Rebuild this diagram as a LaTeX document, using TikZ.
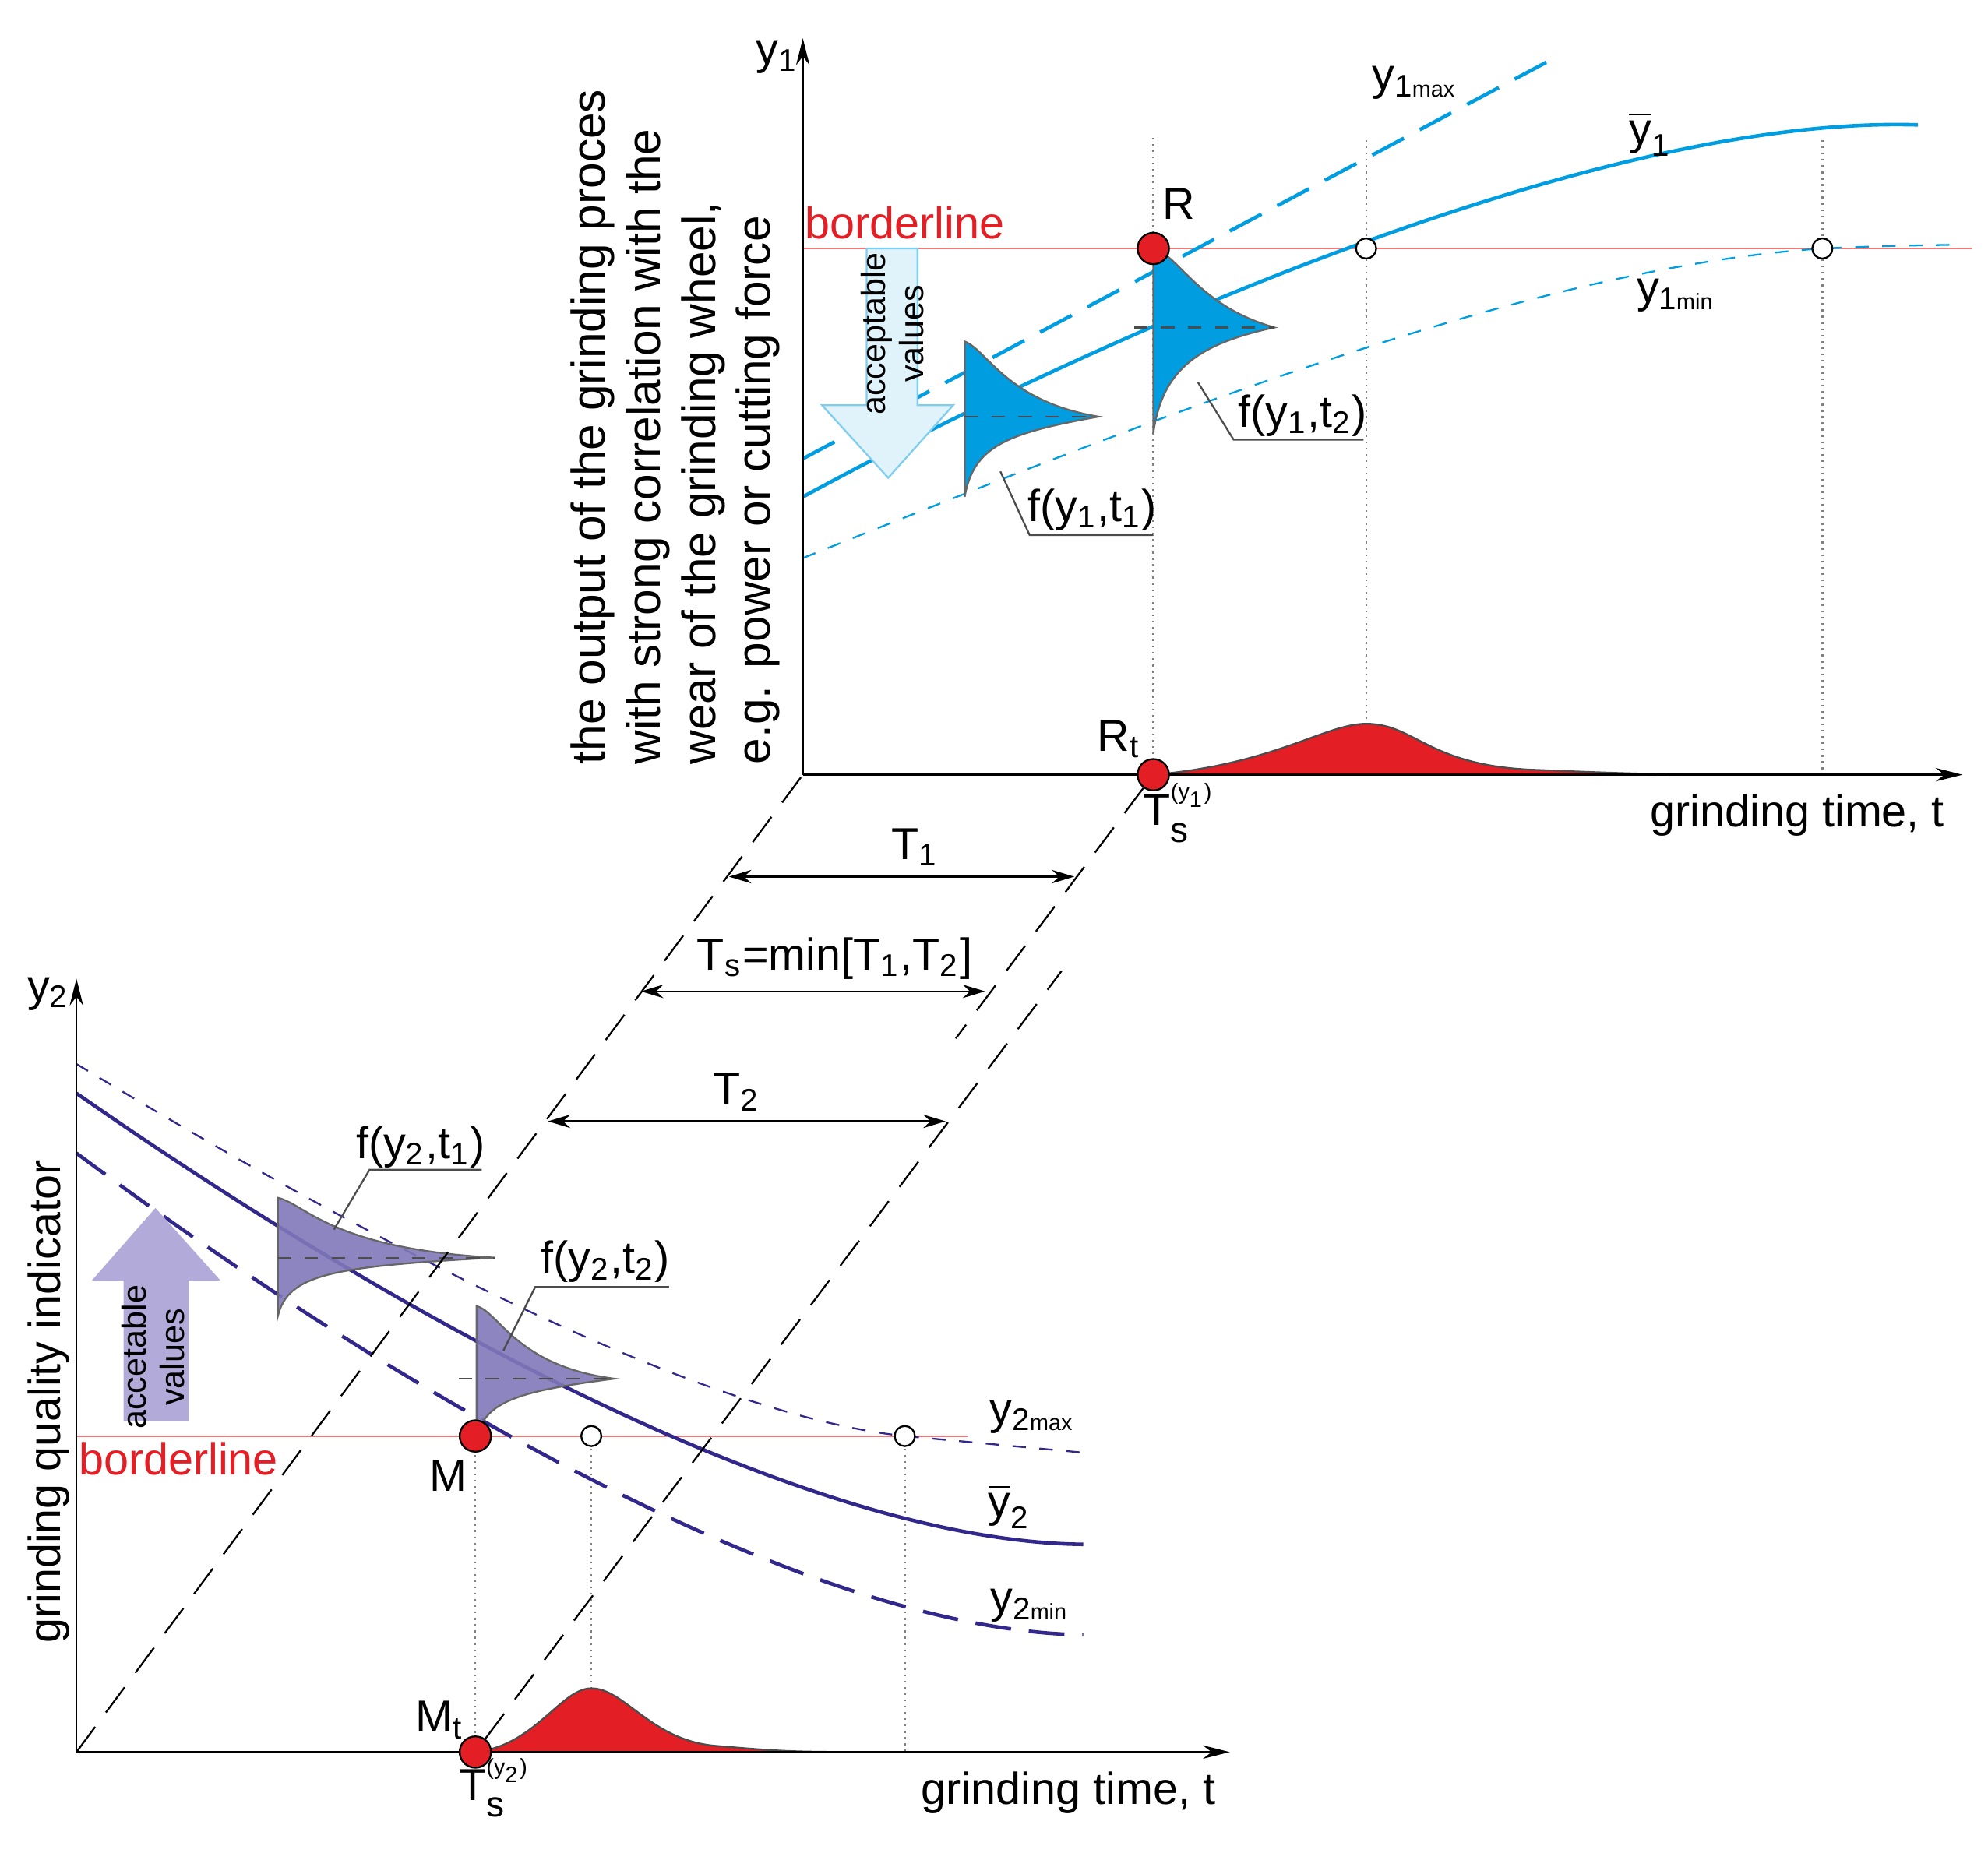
\documentclass[tikz,border=0pt]{standalone}
\usepackage{amsmath}
\usepackage{fontspec}
\setmainfont{Liberation Sans}
\usetikzlibrary{arrows.meta}
\definecolor{yblue}{RGB}{0,158,224}
\definecolor{ypurple}{RGB}{50,40,140}
\definecolor{pfill}{RGB}{128,120,185}
\definecolor{pfillarrow}{RGB}{178,170,216}
\definecolor{bred}{RGB}{227,30,36}
\definecolor{bline}{RGB}{240,120,120}
\newcommand{\sublab}[2]{#1\textsubscript{#2}}
\newcommand{\tslab}[1]{T\rlap{\raisebox{1.1ex}{\tiny(y\textsubscript{#1})}}\raisebox{-0.7ex}{\footnotesize s}}
\begin{document}
\begin{tikzpicture}[x=0.01cm,y=-0.01cm]
    \tikzstyle{axis} = [thin, -{Stealth[length=6pt,width=3pt]}]
    \tikzstyle{guide} = [gray, densely dotted, thin]
    \tikzstyle{border} = [bline, thin]
    \tikzstyle{slant} = [dash pattern=on 7pt off 4pt, thin]
    \tikzstyle{dim} = [thin, {Stealth[length=5pt,width=3pt]}-{Stealth[length=5pt,width=3pt]}]
    \tikzstyle{lbl} = [font=\fontsize{7.5}{8.5}\selectfont, inner sep=1pt]
    \tikzstyle{bigl} = [font=\fontsize{10}{11}\selectfont, inner sep=1pt]
    \tikzstyle{pt} = [circle, draw, fill=bred, inner sep=0pt, minimum size=7pt]
    \tikzstyle{opt} = [circle, draw, fill=white, inner sep=0pt, minimum size=4.5pt]
    \useasboundingbox (0,0) rectangle (1560,1454);

    % upper chart
    \coordinate (O1) at (630,608);
    \coordinate (Y1) at (630,30);
    \coordinate (X1) at (1540,608);
    \draw[border] (630,195) -- (1548,195);
    \draw[guide] (905,108) -- (905,608);
    \draw[guide] (1072,110) -- (1072,608);
    \draw[guide] (1430,110) -- (1430,608);
    \draw[yblue, thick, dash pattern=on 8pt off 4pt] (630,360) -- (1215,48);
    \draw[yblue, thick] (630,390) .. controls (850,270) and (1250,90) .. (1505,98);
    \draw[yblue, thin, dashed] (630,438) .. controls (900,330) and (1200,210) .. (1430,195) .. controls (1480,193) .. (1540,192);
    \draw[fill=bred, draw=black!70, thin] (905,608) .. controls (1000,600) and (1040,568) .. (1072,568) .. controls (1110,568) and (1120,600) .. (1200,604) .. controls (1300,608) .. (1430,608) -- cycle;
    \draw[fill=yblue, draw=black!60, thin] (905,195) .. controls (925,200) and (940,240) .. (1000,257) .. controls (940,270) and (912,290) .. (905,340) -- cycle;
    \draw[fill=yblue, draw=black!60, thin] (757,268) .. controls (775,275) and (790,315) .. (862,327) .. controls (790,340) and (764,350) .. (757,390) -- cycle;
    \draw[dashed, thin, black!70] (890,257) -- (1000,257);
    \draw[dashed, thin, black!70] (757,327) -- (862,327);
    \draw[fill=yblue!12, draw=yblue!50] (680,195) -- (720,195) -- (720,318) -- (748,318) -- (697,375) -- (645,318) -- (680,318) -- cycle;
    \node[lbl, rotate=90, align=center] (AV1) at (700,262) {acceptable\\values};
    \draw[axis] (O1) -- (Y1);
    \draw[axis] (O1) -- (X1);
    \node[pt] (R) at (905,195) {};
    \node[opt] (P1) at (1072,195) {};
    \node[opt] (P2) at (1430,195) {};
    \node[pt] (Rt) at (905,608) {};
    \node[bigl] (y1) at (610,45) {\sublab{y}{1}};
    \node[bigl] (y1max) at (1110,65) {y\textsubscript{1\tiny max}};
    \node[bigl] (y1bar) at (1295,105) {$\overline{\text{y}}_{\text{1}}$};
    \node[bigl] (y1min) at (1315,232) {y\textsubscript{1\tiny min}};
    \node[bigl, text=bred] (bl1) at (710,175) {borderline};
    \node[bigl] (Rl) at (925,160) {R};
    \node[bigl] (Rtl) at (878,580) {\sublab{R}{t}};
    \node[bigl] (Ts1) at (915,638) {\tslab{1}};
    \node[bigl, anchor=east] (gt1) at (1530,640) {grinding time, t};
    \node[bigl] (f12) at (1022,326) {f(\sublab{y}{1},\sublab{t}{2})};
    \node[bigl] (f11) at (857,400) {f(\sublab{y}{1},\sublab{t}{1})};
    \draw[thin, black!70] (940,300) -- (968,345) -- (1070,345);
    \draw[thin, black!70] (785,370) -- (808,420) -- (905,420);
    \node[bigl, rotate=90, align=left, anchor=center, font=\fontsize{10.5}{12.3}\selectfont] (ylab1) at (530,335)
        {the output of the grinding proces\\with strong correlation with the\\wear of the grinding wheel,\\e.g. power or cutting force};

    % lower chart
    \coordinate (O2) at (60,1375);
    \coordinate (Y2) at (60,768);
    \coordinate (X2) at (965,1375);
    \draw[border] (60,1127) -- (760,1127);
    \draw[guide] (373,1127) -- (373,1375);
    \draw[guide] (464,1127) -- (464,1375);
    \draw[guide] (710,1127) -- (710,1375);
    \draw[ypurple, thin, dashed] (60,835) .. controls (300,980) and (550,1110) .. (710,1127) .. controls (780,1133) .. (850,1140);
    \draw[ypurple, thick] (60,858) .. controls (350,1060) and (650,1210) .. (850,1212);
    \draw[ypurple, thick, dash pattern=on 8pt off 4pt] (60,905) .. controls (350,1120) and (650,1280) .. (850,1283);
    \draw[fill=bred, draw=black!70, thin] (373,1375) .. controls (420,1370) and (440,1325) .. (464,1325) .. controls (490,1325) and (510,1365) .. (560,1370) .. controls (620,1375) .. (710,1375) -- cycle;
    \draw[fill=pfill, fill opacity=0.9, draw=black!60, thin] (218,940) .. controls (240,945) and (260,980) .. (388,987) .. controls (260,994) and (226,1000) .. (218,1033) -- cycle;
    \draw[fill=pfill, fill opacity=0.9, draw=black!60, thin] (374,1025) .. controls (392,1030) and (405,1072) .. (482,1082) .. controls (405,1092) and (382,1100) .. (374,1127) -- cycle;
    \draw[dashed, thin, black!70] (218,987) -- (388,987);
    \draw[dashed, thin, black!70] (360,1082) -- (482,1082);
    \fill[pfillarrow] (97,1115) -- (148,1115) -- (148,1005) -- (173,1005) -- (122,948) -- (72,1005) -- (97,1005) -- cycle;
    \node[lbl, rotate=90, align=center] (AV2) at (120,1065) {accetable\\values};
    \draw[axis] (O2) -- (Y2);
    \draw[axis] (O2) -- (X2);
    \node[pt] (M) at (373,1127) {};
    \node[opt] (P3) at (464,1127) {};
    \node[opt] (P4) at (710,1127) {};
    \node[pt] (Mt) at (373,1375) {};
    \node[bigl] (y2) at (38,780) {\sublab{y}{2}};
    \node[bigl, rotate=90] (ylab2) at (38,1100) {grinding quality indicator};
    \node[bigl] (y2max) at (810,1112) {y\textsubscript{2\tiny max}};
    \node[bigl] (y2bar) at (792,1182) {$\overline{\text{y}}_{\text{2}}$};
    \node[bigl] (y2min) at (808,1260) {y\textsubscript{2\tiny min}};
    \node[bigl, text=bred] (bl2) at (140,1145) {borderline};
    \node[bigl] (Ml) at (352,1158) {M};
    \node[bigl] (Mtl) at (345,1350) {\sublab{M}{t}};
    \node[bigl] (Ts2) at (378,1403) {\tslab{2}};
    \node[bigl, anchor=east] (gt2) at (958,1407) {grinding time, t};
    \node[bigl] (f21) at (330,900) {f(\sublab{y}{2},\sublab{t}{1})};
    \node[bigl] (f22) at (475,990) {f(\sublab{y}{2},\sublab{t}{2})};
    \draw[thin, black!70] (262,965) -- (290,918) -- (378,918);
    \draw[thin, black!70] (395,1060) -- (420,1010) -- (525,1010);

    % linking lines and times
    \coordinate (L2) at (833,762);
    \coordinate (L1) at (750,815);
    \draw[slant] (O2) -- (O1);
    \draw[slant] (Rt) -- (L1);
    \draw[slant] (Mt) -- (L2);
    \coordinate (a1) at (572,688);
    \coordinate (b1) at (843,688);
    \coordinate (a2) at (503,778);
    \coordinate (b2) at (773,778);
    \coordinate (a3) at (430,880);
    \coordinate (b3) at (742,880);
    \draw[dim] (a1) -- (b1);
    \draw[dim] (a2) -- (b2);
    \draw[dim] (a3) -- (b3);
    \node[bigl] (T1) at (718,665) {\sublab{T}{1}};
    \node[bigl] (Ts) at (655,752) {\sublab{T}{s}=min[\sublab{T}{1},\sublab{T}{2}]};
    \node[bigl] (T2) at (578,857) {\sublab{T}{2}};
\end{tikzpicture}
\end{document}
